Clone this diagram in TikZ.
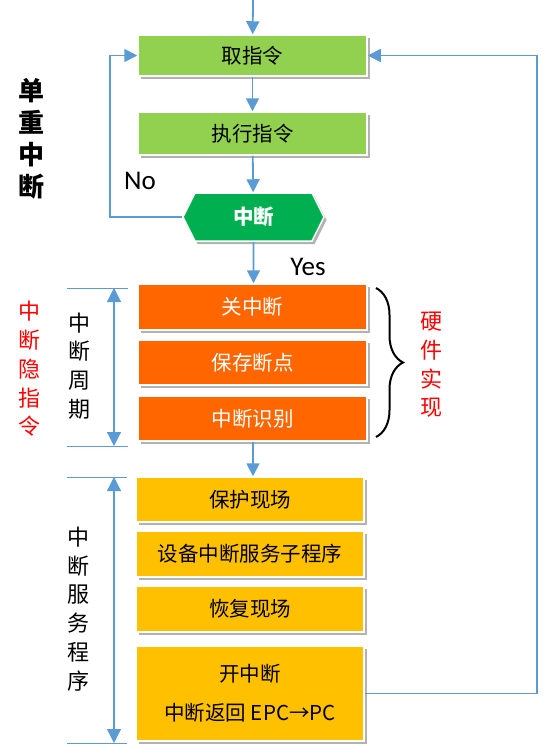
\documentclass[tikz,border=0pt]{standalone}
\usepackage{fontspec}
\setmainfont{Noto Sans CJK SC}
\newfontfamily\latinlabel{Carlito}
\usetikzlibrary{arrows.meta,shapes.symbols,shadows,decorations.pathreplacing}
\definecolor{flowblue}{HTML}{5B9BD5}
\definecolor{stepgreen}{HTML}{92D050}
\definecolor{decgreen}{HTML}{00B050}
\definecolor{hworange}{HTML}{FF6600}
\definecolor{isryellow}{HTML}{FFC000}
\definecolor{notered}{HTML}{FF0000}
\begin{document}
\begin{tikzpicture}[x=1pt,y=-1pt,
  boxshadow/.style={drop shadow={shadow xshift=2.5pt, shadow yshift=-3pt, fill=black, opacity=0.3}},
  stepbox/.style={rectangle, draw=white, line width=1.5pt, minimum width=229pt,
    inner sep=0pt, font=\fontsize{20.5}{24}\selectfont, boxshadow},
  greenbox/.style={stepbox, fill=stepgreen},
  orangebox/.style={stepbox, fill=hworange, text=white},
  yellowbox/.style={stepbox, fill=isryellow, minimum width=228pt},
  hexbox/.style={shape=signal, signal to=west and east, signal pointer angle=127,
    minimum width=141pt, minimum height=48pt, inner sep=0pt, fill=decgreen,
    draw=white, line width=1.5pt, text=white, font=\fontsize{20.5}{24}\selectfont\bfseries, boxshadow},
  flow/.style={draw=flowblue, line width=1.8pt, -{Triangle[length=13pt,width=13pt]}},
  dimline/.style={draw=flowblue, line width=0.9pt},
  dimarrow/.style={draw=flowblue, line width=1.2pt,
    {Triangle[length=14pt,width=14pt]}-{Triangle[length=14pt,width=14pt]}},
  vlabel/.style={align=center, font=\fontsize{22}{28.7}\selectfont, inner sep=0pt},
  yesno/.style={font=\latinlabel\fontsize{27}{30}\selectfont, inner sep=0pt}
]
\useasboundingbox (0,0) rectangle (553,753);

% main flow: fetch, execute, interrupt test
\coordinate (entry) at (253,0);
\node[greenbox, minimum height=41pt] (fetch) at (252.5,55.5) {取指令};
\node[greenbox, minimum height=43pt] (exec) at (252.5,133.5) {执行指令};
\node[hexbox] (int) at (253.5,217) {中断};

% interrupt cycle (hardware)
\node[orangebox, minimum height=46pt] (disable) at (252.5,307) {关中断};
\node[orangebox, minimum height=45pt] (savebp) at (252.5,362.5) {保存断点};
\node[orangebox, minimum height=45pt] (identify) at (252.5,418.5) {中断识别};

% interrupt service routine
\node[yellowbox, minimum height=45pt] (protect) at (250,499.5) {保护现场};
\node[yellowbox, minimum height=46pt] (service) at (250,554) {设备中断服务子程序};
\node[yellowbox, minimum height=46pt] (restore) at (250,609) {恢复现场};
\node[yellowbox, minimum height=95pt, align=center,
      font=\fontsize{20.5}{39}\selectfont] (reti) at (250,693.5) {开中断\\中断返回 EPC→PC};

% connectors
\draw[flow] (entry) -- (fetch);
\draw[flow] (fetch) -- (exec);
\draw[flow] (exec) -- (int);
\draw[flow] (int) -- (disable.north -| int.south);
\draw[flow] (identify.south -| entry) -- (protect.north -| entry);
\coordinate (lloop) at (110,0);
\draw[flow] (int.west) -- (int.west -| lloop) -- (lloop |- fetch.west) -- (fetch.west);
\coordinate (rloop) at (537,0);
\draw[flow] (reti.east) -- (reti.east -| rloop) -- (rloop |- fetch.east) -- (fetch.east);

\node[yesno] (no) at (140,181) {No};
\node[yesno] (yes) at (308,267) {Yes};

% side annotations
\node[font=\fontsize{26}{32}\selectfont\bfseries, align=center, inner sep=0pt] (single) at (32,139) {单\\重\\中\\断};
\node[vlabel, text=notered] (hidden) at (30,369) {中\\断\\隐\\指\\令};
\node[vlabel] (cycle) at (79,366) {中\\断\\周\\期};
\node[vlabel, text=notered] (hardware) at (431,365) {硬\\件\\实\\现};
\node[vlabel] (isr) at (78,609) {中\\断\\服\\务\\程\\序};

% span markers
\coordinate (c1a) at (67,288);
\coordinate (c1b) at (128,288);
\coordinate (c2a) at (67,446);
\coordinate (c2b) at (128,446);
\draw[dimline] (c1a) -- (c1b);
\draw[dimline] (c2a) -- (c2b);
\draw[dimarrow] (114,288) -- (114,446);
\coordinate (s1a) at (67,477);
\coordinate (s1b) at (127,477);
\coordinate (s2a) at (67,743);
\coordinate (s2b) at (127,743);
\draw[dimline] (s1a) -- (s1b);
\draw[dimline] (s2a) -- (s2b);
\draw[dimarrow] (114,477) -- (114,743);

% brace over the hardware steps
\coordinate (btop) at (376,288);
\coordinate (bbot) at (376,437);
\draw[decorate, decoration={brace, amplitude=27pt}, line width=2pt] (btop) -- (bbot);
\end{tikzpicture}
\end{document}
